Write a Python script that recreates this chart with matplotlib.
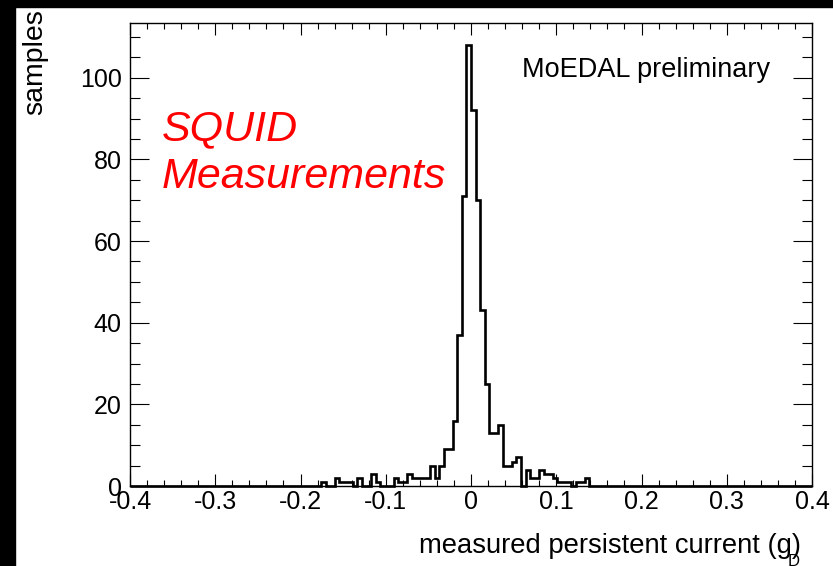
import numpy as np
import matplotlib
matplotlib.use('Agg')
import matplotlib.pyplot as plt
import matplotlib.ticker as mticker
from matplotlib.patches import Rectangle

# ── Data: histogram of measured persistent current ─────────
x_lo, x_hi, n_bins = -0.4, 0.4, 150
first_bin = 42          # index of first bin listed below
counts_nonzero = [
    1, 0, 0, 2, 1, 1, 1, 0, 2, 0,      # bins 42-51
    0, 3, 1, 0, 0, 0, 2, 1, 1, 3,      # bins 52-61
    2, 2, 2, 2, 5, 2, 5, 9, 9, 16,     # bins 62-71
    37, 71, 108, 92, 70, 43, 25, 13, 13, 15,  # bins 72-81
    5, 5, 6, 7, 0, 4, 2, 2, 4, 3,      # bins 82-91
    3, 2, 1, 1, 1, 0, 1, 1, 2,         # bins 92-100
]
y_max = 113.4

x_label = 'measured persistent current (g)'
y_label = 'samples'
tag_text = 'MoEDAL preliminary'
title_lines = ['SQUID', 'Measurements']

counts = np.zeros(n_bins)
counts[first_bin:first_bin + len(counts_nonzero)] = counts_nonzero
edges = np.linspace(x_lo, x_hi, n_bins + 1)

# ── Style ──────────────────────────────────────────────────
plt.rcParams.update({
    'font.family': ['Liberation Sans', 'DejaVu Sans'],
    'axes.unicode_minus': False,
})

W, H = 833, 566
fx = lambda px: px / W
fy = lambda py: 1 - py / H

fig = plt.figure(figsize=(W / 100, H / 100), dpi=100, facecolor='white')

# black canvas border (top + left)
fig.patches.append(Rectangle((0, 0), fx(15), 1, transform=fig.transFigure,
                             color='black', zorder=-5))
fig.patches.append(Rectangle((0, fy(7)), 1, 7 / H, transform=fig.transFigure,
                             color='black', zorder=-5))

ax = fig.add_axes([fx(130), fy(486), fx(812 - 130), (486 - 23) / H])

ax.stairs(counts, edges, baseline=0, color='black', linewidth=1.9,
          clip_on=False, zorder=5)

ax.set_xlim(x_lo, x_hi)
ax.set_ylim(0, y_max)

ax.xaxis.set_major_locator(mticker.MultipleLocator(0.1))
ax.xaxis.set_minor_locator(mticker.MultipleLocator(0.02))
ax.yaxis.set_major_locator(mticker.MultipleLocator(20))
ax.yaxis.set_minor_locator(mticker.MultipleLocator(5))
ax.xaxis.set_major_formatter(mticker.FuncFormatter(lambda v, p: '%g' % round(v, 3)))

ax.tick_params(which='both', direction='in', top=True, right=True,
               color='black', width=0.8)
ax.tick_params(axis='x', which='major', length=8.5, pad=3, labelsize=18)
ax.tick_params(axis='x', which='minor', length=4.3)
ax.tick_params(axis='y', which='major', length=14, pad=6, labelsize=18)
ax.tick_params(axis='y', which='minor', length=7)

for sp in ax.spines.values():
    sp.set_color('black')
    sp.set_linewidth(1.0)

# axis titles (ROOT style: right/top aligned)
fig.text(fx(801), fy(546), x_label, ha='right', va='center', fontsize=19.7)
fig.text(fx(794), fy(554), 'D', ha='center', va='top', fontsize=12)
fig.text(fx(35), fy(9), y_label, ha='center', va='top', rotation=90, fontsize=20.5)

# annotations
fig.text(fx(522), fy(70), tag_text, ha='left', va='center', fontsize=19.5)
fig.text(fx(162), fy(140), title_lines[0], ha='left', va='baseline',
         fontsize=31, color='#ff0000', style='italic')
fig.text(fx(162), fy(188), title_lines[1], ha='left', va='baseline',
         fontsize=31, color='#ff0000', style='italic')

fig.savefig('out.png', dpi=100)
